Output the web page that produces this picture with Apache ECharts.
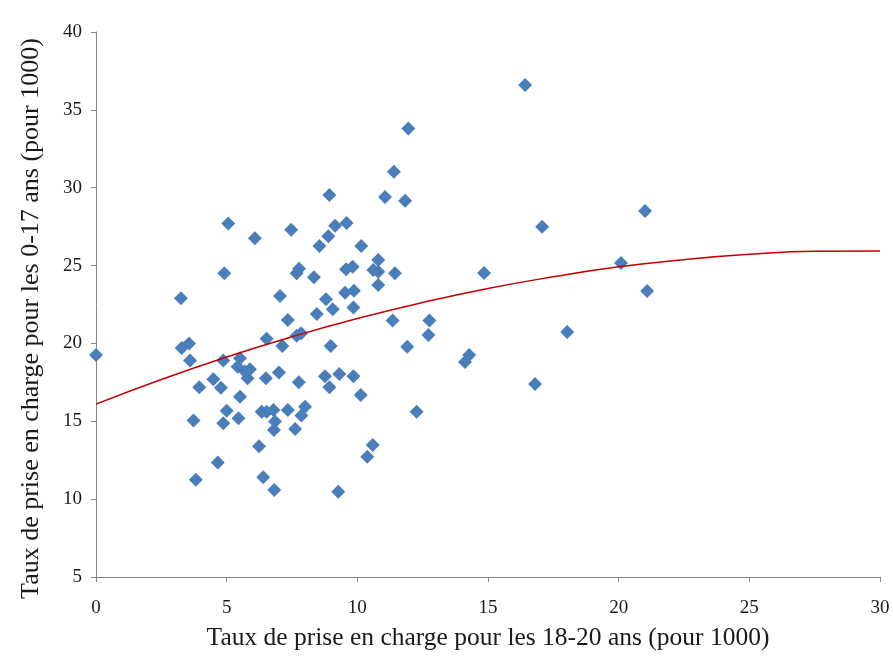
<!DOCTYPE html>
<html>
<head>
<meta charset="utf-8">
<script src="https://cdn.jsdelivr.net/npm/echarts@6/dist/echarts.min.js"></script>
<style>
html,body{margin:0;padding:0;background:#fff;}
#chart{width:893px;height:657px;}
</style>
</head>
<body>
<div id="chart"></div>
<script>
// Rates 18-20 (x) and 0-17 (y), per 1000
const rate1820 = [0.0,3.25,3.28,3.56,3.6,3.73,3.82,3.95,4.49,4.66,4.78,4.87,4.87,4.91,5.0,5.06,5.42,5.45,5.51,5.51,5.7,5.8,5.89,6.08,6.24,6.34,6.4,6.5,6.53,6.53,6.79,6.81,6.82,6.85,7.0,7.04,7.13,7.34,7.34,7.47,7.62,7.68,7.68,7.76,7.77,7.85,7.86,8.0,8.34,8.45,8.55,8.76,8.8,8.89,8.93,8.93,8.98,9.06,9.15,9.27,9.31,9.53,9.57,9.59,9.82,9.85,9.85,9.87,10.13,10.15,10.38,10.59,10.61,10.8,10.8,10.8,11.06,11.35,11.4,11.44,11.83,11.91,11.95,12.27,12.72,12.76,14.12,14.28,14.85,16.42,16.8,17.07,18.03,20.09,21.01,21.09];
const rate017 = [19.25,22.9,19.7,20.0,18.9,15.05,11.25,17.18,17.7,12.35,17.16,18.9,14.87,24.5,15.68,27.7,18.5,15.19,19.05,16.58,18.2,17.76,18.34,26.75,13.4,15.62,11.4,17.76,20.3,15.62,15.72,14.44,10.59,14.98,18.13,23.05,19.84,21.5,15.72,27.3,14.5,24.5,20.5,17.5,24.8,20.65,15.37,15.94,24.25,21.89,26.26,17.9,22.84,26.89,29.53,17.18,19.84,22.19,27.55,10.48,18.04,23.26,24.76,27.73,24.93,22.3,17.9,23.39,16.69,26.26,12.73,13.48,24.72,25.36,24.61,23.75,29.4,21.47,31.03,24.5,29.17,19.79,33.8,15.62,20.54,21.47,18.8,19.26,24.52,36.6,17.4,27.5,20.74,25.17,28.5,23.37];
// Trend line values
const trendX = [0,2.5,5,7.5,10,12.5,15,17.5,20,22.5,25,27.5,30];
const trendY = [16.1,17.68,19.13,20.43,21.6,22.63,23.53,24.28,24.92,25.38,25.72,25.92,25.94];
const xTicks = [0,5,10,15,20,25,30];
const yTicks = [5,10,15,20,25,30,35,40];
const xTitle = 'Taux de prise en charge pour les 18-20 ans (pour 1000)';
const yTitle = 'Taux de prise en charge pour les 0-17 ans (pour 1000)';

const points = rate1820.map((x, i) => [x, rate017[i]]);
const trend = trendX.map((x, i) => [x, trendY[i]]);
const FONT = '"Liberation Serif", "DejaVu Serif", serif';

const chart = echarts.init(document.getElementById('chart'), null, {renderer: 'canvas'});
chart.setOption({
  animation: false,
  backgroundColor: '#ffffff',
  grid: {left: 96, right: 13, top: 32, bottom: 80, containLabel: false},
  xAxis: {
    type: 'value', min: xTicks[0], max: xTicks[xTicks.length-1], interval: 5,
    name: xTitle, nameLocation: 'middle', nameGap: 48,
    nameTextStyle: {fontFamily: FONT, fontSize: 25.5, color: '#1a1a1a'},
    axisLine: {show: true, lineStyle: {color: '#868686', width: 1}},
    axisTick: {show: true, length: 5, inside: false, lineStyle: {color: '#868686'}},
    axisLabel: {fontFamily: FONT, fontSize: 19, color: '#1a1a1a', margin: 22},
    splitLine: {show: false}
  },
  yAxis: {
    type: 'value', min: yTicks[0], max: yTicks[yTicks.length-1], interval: 5,
    name: yTitle, nameLocation: 'middle', nameGap: 52, nameRotate: 90,
    nameTextStyle: {fontFamily: FONT, fontSize: 26, color: '#1a1a1a', padding: [0, 28, 0, 0]},
    axisLine: {show: true, lineStyle: {color: '#868686', width: 1}},
    axisTick: {show: true, length: 5, inside: false, lineStyle: {color: '#868686'}},
    axisLabel: {fontFamily: FONT, fontSize: 19, color: '#1a1a1a', margin: 14},
    splitLine: {show: false}
  },
  series: [
    {
      type: 'scatter', data: points, symbol: 'diamond', symbolSize: 14,
      itemStyle: {color: '#4A7EBB', opacity: 1}, z: 2
    },
    {
      type: 'line', data: trend, smooth: true, showSymbol: false, symbol: 'none',
      lineStyle: {color: '#C00000', width: 1.5}, z: 3
    }
  ]
});
</script>
</body>
</html>
